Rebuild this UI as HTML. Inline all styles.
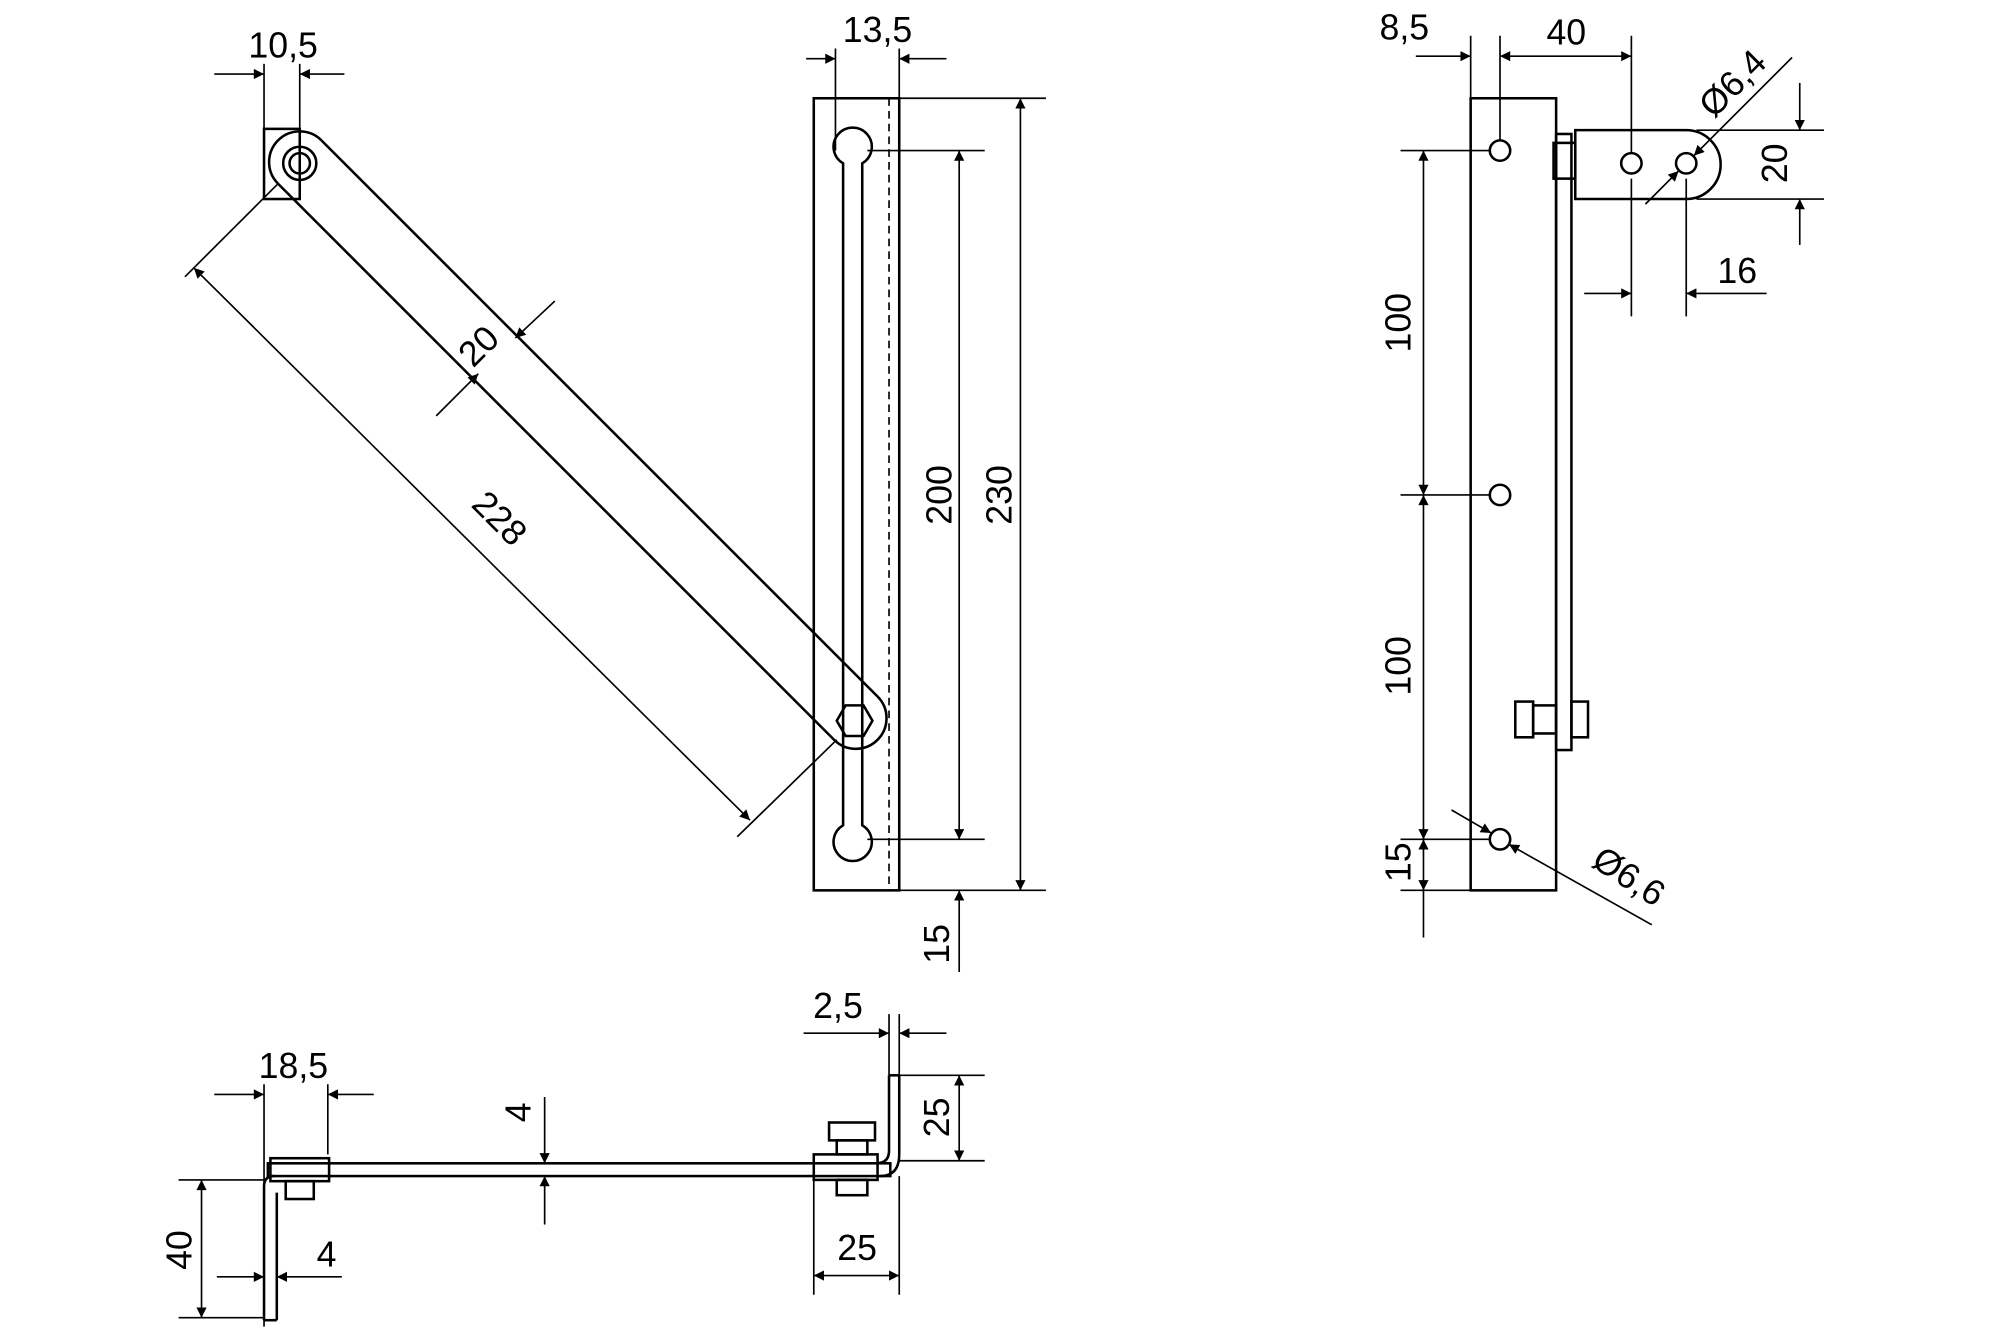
<!DOCTYPE html>
<html><head><meta charset="utf-8"><style>html,body{margin:0;padding:0;background:#fff}svg{display:block}</style></head>
<body>
<svg width="2000" height="1333" viewBox="0 0 1568 1045" xmlns="http://www.w3.org/2000/svg">
<defs>
<marker id="a" viewBox="0 0 10 10" refX="10" refY="5" markerWidth="17" markerHeight="8" markerUnits="userSpaceOnUse" orient="auto-start-reverse"><path d="M0,0L10,5L0,10z" fill="#000"/></marker>
</defs>
<g fill="none" stroke="#000" stroke-width="2">
<rect x="638" y="77" width="67" height="621"/>
<line x1="697" y1="77" x2="697" y2="698" stroke-dasharray="6,4" stroke-width="1.3"/>
<path d="M661,128 A15,15 0 1 1 676,128 L676,647 A15,15 0 1 1 661,647 Z"/>
<path d="M252,110 L688,546 A24,24 0 0 1 654,580 L218,144"/>
<path d="M252,110 A24,24 0 0 0 218,144"/>
<rect x="207" y="101" width="28" height="55"/>
<circle cx="235" cy="128" r="13"/><circle cx="235" cy="128" r="8"/>
<polygon points="684,565 677,577 663,577 656,565 663,553 677,553"/>
<g stroke-width="1.3">
<line x1="207" y1="50" x2="207" y2="101"/><line x1="235" y1="50" x2="235" y2="101"/>
<line x1="168" y1="58" x2="207" y2="58" marker-end="url(#a)"/><line x1="270" y1="58" x2="235" y2="58" marker-end="url(#a)"/>
<line x1="655" y1="38" x2="655" y2="118"/><line x1="705" y1="38" x2="705" y2="77"/>
<line x1="632" y1="46" x2="655" y2="46" marker-end="url(#a)"/><line x1="742" y1="46" x2="705" y2="46" marker-end="url(#a)"/>
<line x1="680" y1="118" x2="772" y2="118"/><line x1="680" y1="658" x2="772" y2="658"/>
<line x1="705" y1="77" x2="820" y2="77"/><line x1="705" y1="698" x2="820" y2="698"/>
<line x1="752" y1="118" x2="752" y2="658" marker-start="url(#a)" marker-end="url(#a)"/>
<line x1="800" y1="77" x2="800" y2="698" marker-start="url(#a)" marker-end="url(#a)"/>
<line x1="752" y1="762" x2="752" y2="698" marker-end="url(#a)"/>
<line x1="218" y1="144" x2="145" y2="217"/><line x1="656" y1="580" x2="578" y2="656"/>
<line x1="152" y1="210" x2="588" y2="643" marker-start="url(#a)" marker-end="url(#a)"/>
<line x1="342" y1="326" x2="375" y2="293" marker-end="url(#a)"/><line x1="435" y1="236" x2="404" y2="265" marker-end="url(#a)"/>
</g>
<rect x="210" y="912" width="488" height="10"/>
<path d="M207,1035 L207,930 Q207,922 215,922 M217,1035 L217,935" />
<line x1="207" y1="1035" x2="217" y2="1035"/>
<rect x="212" y="908" width="46" height="18"/>
<rect x="224" y="926" width="22" height="14"/>
<path d="M697,843 L697,902 Q697,912 687,912 M705,843 L705,905 Q705,922 690,922"/>
<line x1="697" y1="843" x2="705" y2="843"/>
<rect x="638" y="905" width="50" height="20"/>
<rect x="650" y="880" width="36" height="14"/><rect x="656" y="894" width="24" height="11"/>
<rect x="656" y="925" width="24" height="12"/>
<g stroke-width="1.3">
<line x1="207" y1="850" x2="207" y2="1040"/><line x1="257" y1="850" x2="257" y2="905"/>
<line x1="168" y1="858" x2="207" y2="858" marker-end="url(#a)"/><line x1="293" y1="858" x2="257" y2="858" marker-end="url(#a)"/>
<line x1="427" y1="860" x2="427" y2="912" marker-end="url(#a)"/><line x1="427" y1="960" x2="427" y2="922" marker-end="url(#a)"/>
<line x1="140" y1="925" x2="207" y2="925"/><line x1="140" y1="1033" x2="207" y2="1033"/>
<line x1="158" y1="925" x2="158" y2="1033" marker-start="url(#a)" marker-end="url(#a)"/>
<line x1="170" y1="1001" x2="207" y2="1001" marker-end="url(#a)"/><line x1="268" y1="1001" x2="217" y2="1001" marker-end="url(#a)"/>
<line x1="638" y1="925" x2="638" y2="1015"/><line x1="705" y1="922" x2="705" y2="1015"/>
<line x1="638" y1="1000" x2="705" y2="1000" marker-start="url(#a)" marker-end="url(#a)"/>
<line x1="705" y1="843" x2="772" y2="843"/><line x1="705" y1="910" x2="772" y2="910"/>
<line x1="752" y1="843" x2="752" y2="910" marker-start="url(#a)" marker-end="url(#a)"/>
<line x1="697" y1="795" x2="697" y2="843"/><line x1="705" y1="795" x2="705" y2="843"/>
<line x1="630" y1="810" x2="697" y2="810" marker-end="url(#a)"/><line x1="742" y1="810" x2="705" y2="810" marker-end="url(#a)"/>
</g>
<rect x="1153" y="77" width="67" height="621"/>
<rect x="1220" y="105" width="12" height="483"/>
<circle cx="1176" cy="118" r="8"/><circle cx="1176" cy="388" r="8"/><circle cx="1176" cy="658" r="8"/>
<rect x="1218" y="112" width="17" height="28"/>
<path d="M1235,102 L1322,102 A27,27 0 0 1 1322,156 L1235,156 Z"/>
<circle cx="1279" cy="128" r="8"/><circle cx="1322" cy="128" r="8"/>
<rect x="1188" y="550" width="14" height="28"/><rect x="1202" y="553" width="18" height="22"/>
<rect x="1232" y="550" width="13" height="28"/>
<g stroke-width="1.3">
<line x1="1153" y1="28" x2="1153" y2="77"/><line x1="1176" y1="28" x2="1176" y2="110"/><line x1="1279" y1="28" x2="1279" y2="120"/>
<line x1="1110" y1="44" x2="1153" y2="44" marker-end="url(#a)"/>
<line x1="1176" y1="44" x2="1279" y2="44" marker-start="url(#a)" marker-end="url(#a)"/>
<line x1="1290" y1="160" x2="1316" y2="134" marker-end="url(#a)"/><line x1="1405" y1="45" x2="1328" y2="122" marker-end="url(#a)"/>
<line x1="1330" y1="102" x2="1430" y2="102"/><line x1="1330" y1="156" x2="1430" y2="156"/>
<line x1="1411" y1="65" x2="1411" y2="102" marker-end="url(#a)"/><line x1="1411" y1="192" x2="1411" y2="156" marker-end="url(#a)"/>
<line x1="1279" y1="140" x2="1279" y2="248"/><line x1="1322" y1="140" x2="1322" y2="248"/>
<line x1="1242" y1="230" x2="1279" y2="230" marker-end="url(#a)"/><line x1="1385" y1="230" x2="1322" y2="230" marker-end="url(#a)"/>
<line x1="1098" y1="118" x2="1168" y2="118"/><line x1="1098" y1="388" x2="1168" y2="388"/><line x1="1098" y1="658" x2="1168" y2="658"/><line x1="1098" y1="698" x2="1153" y2="698"/>
<line x1="1116" y1="118" x2="1116" y2="388" marker-start="url(#a)" marker-end="url(#a)"/>
<line x1="1116" y1="388" x2="1116" y2="658" marker-start="url(#a)" marker-end="url(#a)"/>
<line x1="1116" y1="698" x2="1116" y2="735"/><line x1="1116" y1="658" x2="1116" y2="698" marker-start="url(#a)" marker-end="url(#a)"/>
<line x1="1138" y1="635" x2="1169" y2="653" marker-end="url(#a)"/><line x1="1295" y1="725" x2="1183" y2="662" marker-end="url(#a)"/>
</g>
</g>
<g font-family="Liberation Sans, sans-serif" font-size="28" fill="#000" text-anchor="middle">
<text x="222" y="45">10,5</text>
<text x="688" y="33">13,5</text>
<text x="746" y="388" transform="rotate(-90 746 388)">200</text>
<text x="793" y="388" transform="rotate(-90 793 388)">230</text>
<text x="744" y="740" transform="rotate(-90 744 740)">15</text>
<text x="385" y="413" transform="rotate(45 385 413)">228</text>
<text x="382" y="278" transform="rotate(-45 382 278)">20</text>
<text x="230" y="845">18,5</text>
<text x="416" y="872" transform="rotate(-90 416 872)">4</text>
<text x="150" y="980" transform="rotate(-90 150 980)">40</text>
<text x="256" y="993">4</text>
<text x="672" y="988">25</text>
<text x="744" y="876" transform="rotate(-90 744 876)">25</text>
<text x="657" y="798">2,5</text>
<text x="1101" y="31">8,5</text>
<text x="1228" y="35">40</text>
<text x="1365" y="72" transform="rotate(-45 1365 72)">Ø6,4</text>
<text x="1401" y="128" transform="rotate(-90 1401 128)">20</text>
<text x="1362" y="222">16</text>
<text x="1106" y="253" transform="rotate(-90 1106 253)">100</text>
<text x="1106" y="522" transform="rotate(-90 1106 522)">100</text>
<text x="1106" y="676" transform="rotate(-90 1106 676)">15</text>
<text x="1272" y="695" transform="rotate(33 1272 695)">Ø6,6</text>
</g>
</svg>
</body></html>
